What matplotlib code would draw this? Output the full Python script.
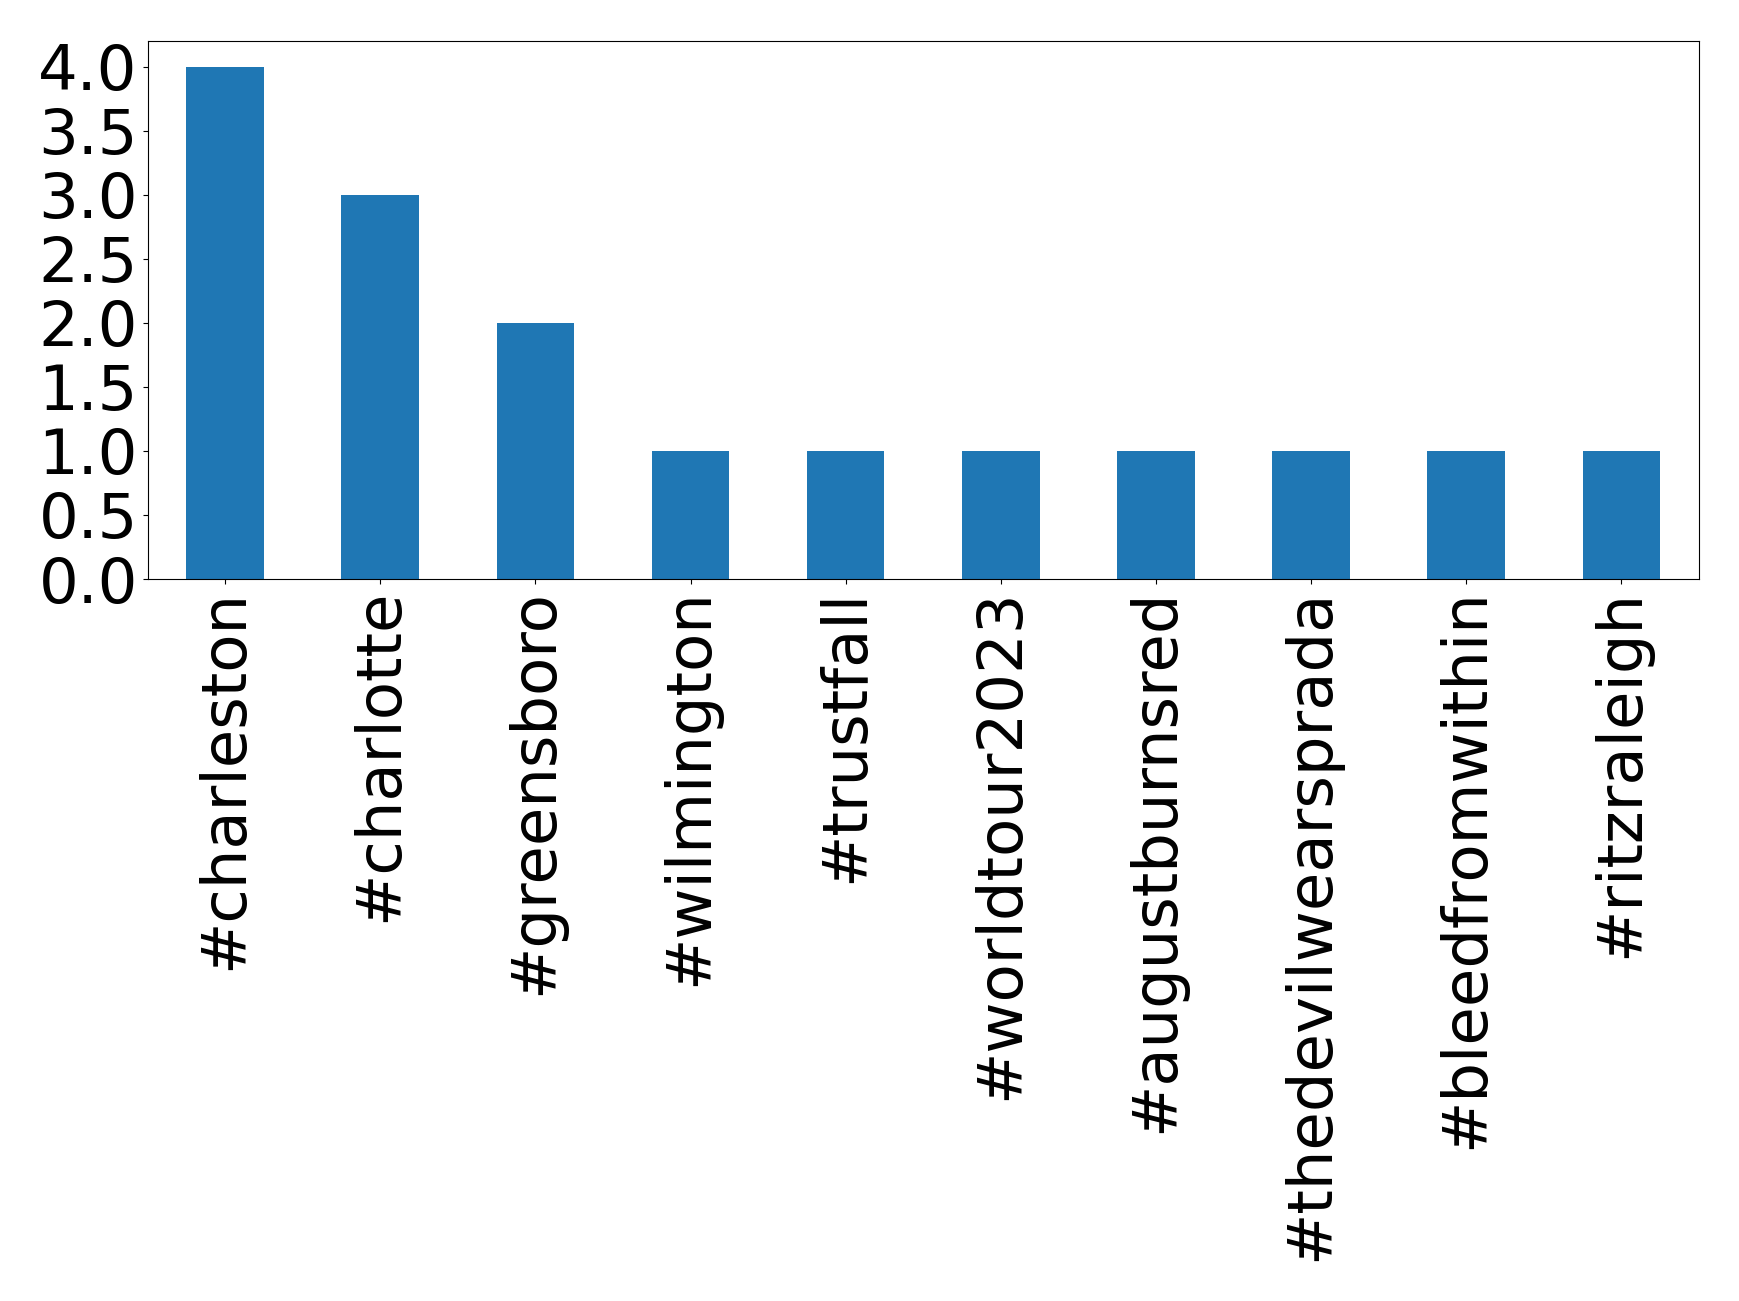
import matplotlib
matplotlib.use("Agg")
import matplotlib.pyplot as plt

hashtags = ["#charleston", "#charlotte", "#greensboro", "#wilmington", "#trustfall",
            "#worldtour2023", "#augustburnsred", "#thedevilwearsprada",
            "#bleedfromwithin", "#ritzraleigh"]
counts = [4, 3, 2, 1, 1, 1, 1, 1, 1, 1]

fig = plt.figure(figsize=(17.39, 13.01), dpi=100)
ax = fig.add_axes([147.5 / 1739, 1 - 579 / 1301, (1699 - 147.5) / 1739, (579 - 41) / 1301])

x = range(len(hashtags))
ax.bar(x, counts, width=0.5, color="#1f77b4")
ax.set_xlim(-0.5, len(hashtags) - 0.5)
ax.set_ylim(0, 4.2)
ax.set_xticks(list(x))
ax.set_xticklabels(hashtags, rotation=90, fontsize=45)
ax.set_yticks([0, 0.5, 1, 1.5, 2, 2.5, 3, 3.5, 4])
ax.set_yticklabels(["0.0", "0.5", "1.0", "1.5", "2.0", "2.5", "3.0", "3.5", "4.0"], fontsize=45)

fig.savefig("out.png", dpi=100)
